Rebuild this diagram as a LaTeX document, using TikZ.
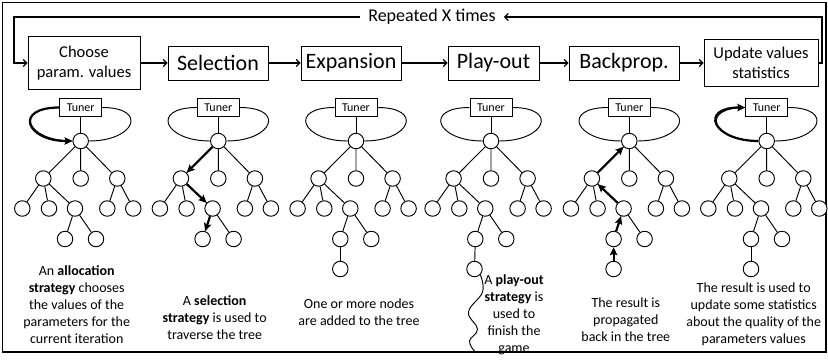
\documentclass[tikz,border=0pt]{standalone}
\usepackage{fontspec}
\setmainfont{Carlito}
\usetikzlibrary{arrows.meta}

\begin{document}
\begin{tikzpicture}[x=1pt,y=-1pt,
  frame/.style={draw=black,line width=1.8pt},
  stepbox/.style={draw=black,line width=0.9pt,fill=white,align=center,inner sep=0pt,minimum height=34pt,font=\fontsize{22}{26}\selectfont},
  flow/.style={draw=black,line width=1.2pt,-{Straight Barb[length=3.5pt,width=7pt]}},
  tuner/.style={draw=black,line width=0.9pt,fill=white,minimum width=42pt,minimum height=18.5pt,inner sep=0pt,font=\fontsize{12}{14}\selectfont},
  leaf/.style={draw=black,line width=0.95pt,fill=white,circle,minimum size=15.5pt,inner sep=0pt},
  edge/.style={draw=black,line width=0.95pt},
  walk/.style={draw=black,line width=2.2pt,-{Stealth[length=8pt,width=7.5pt,inset=1.5pt]}},
  note/.style={align=center,font=\fontsize{14}{17}\selectfont},
]
\useasboundingbox (0,0) rectangle (828,360);
\draw[frame] (2.5,2.5) rectangle (826,352);

% Steps of one iteration
\node[stepbox,minimum width=112pt,minimum height=53pt,font=\fontsize{16.5}{20.5}\selectfont] (choose) at (84,63) {Choose\\param. values};
\node[stepbox,minimum width=100pt] (select) at (218,63) {Selection};
\node[stepbox,minimum width=100pt] (expand) at (351,63) {Expansion};
\node[stepbox,minimum width=91pt] (playout) at (493.5,63) {Play-out};
\node[stepbox,minimum width=110pt] (backprop) at (624,63) {Backprop.};
\node[stepbox,minimum width=114pt,minimum height=47pt,font=\fontsize{16.5}{20.5}\selectfont] (update) at (761,63) {Update values\\statistics};
\draw[flow] (choose) -- (select);
\draw[flow] (select) -- (expand);
\draw[flow] (expand) -- (playout);
\draw[flow] (playout) -- (backprop);
\draw[flow] (backprop) -- (update);

% Loop back
\node[inner xsep=8pt,font=\fontsize{18}{22}\selectfont] (rep) at (432,17) {Repeated X times};
\coordinate (loopL) at (14,17);
\coordinate (loopR) at (822,17);
\draw[flow] (update.east) -| (loopR) -- (rep.east);
\draw[flow] (rep.west) -- (loopL) |- (choose.west);

% Same tree under every step
\foreach \i/\x in {1/80.7,2/218.3,3/356,4/491,5/629.3,6/766.7}{
  \node[tuner] (tun\i) at (\x,107.5) {Tuner};
  \node[leaf] (root\i) at (\x,141) {};
  \node[leaf] (left\i) at (\x-37.4,178.5) {};
  \node[leaf] (mid\i) at (\x,178.5) {};
  \node[leaf] (right\i) at (\x+36.6,178.5) {};
  \node[leaf] (ll\i) at (\x-58.4,208.5) {};
  \node[leaf] (lm\i) at (\x-31.7,208.5) {};
  \node[leaf] (lr\i) at (\x-5.7,208.5) {};
  \node[leaf] (rl\i) at (\x+26.6,208.5) {};
  \node[leaf] (rr\i) at (\x+52.6,208.5) {};
  \node[leaf] (lrl\i) at (\x-15.7,239) {};
  \node[leaf] (lrr\i) at (\x+15.3,239) {};
  \draw[edge] (tun\i.west) to[out=180,in=180,looseness=3.3] (root\i.west);
  \draw[edge] (tun\i.east) to[out=0,in=0,looseness=3.3] (root\i.east);
  \draw[edge] (tun\i) -- (root\i);
  \draw[edge] (root\i) -- (left\i) (root\i) -- (mid\i) (root\i) -- (right\i);
  \draw[edge] (left\i) -- (ll\i) (left\i) -- (lm\i) (left\i) -- (lr\i);
  \draw[edge] (right\i) -- (rl\i) (right\i) -- (rr\i);
  \draw[edge] (lr\i) -- (lrl\i) (lr\i) -- (lrr\i);
}

% Choose param. values
\draw[walk] (tun1.west) to[out=180,in=180,looseness=3.3] (root1.west);
\node[note] (txt1) at (76.7,305) {An \textbf{allocation}\\\textbf{strategy} chooses\\the values of the\\parameters for the\\current iteration};

% Selection
\draw[walk] (root2) -- (left2);
\draw[walk] (left2) -- (lr2);
\draw[walk] (lr2) -- (lrl2);
\node[note] (txt2) at (214.7,318) {A \textbf{selection}\\\textbf{strategy} is used to\\traverse the tree};

% Expansion
\node[leaf] (new3) at (340.3,269) {};
\draw[edge] (lrl3) -- (new3);
\node[note] (txt3) at (359,312) {One or more nodes\\are added to the tree};

% Play-out
\node[leaf] (new4) at (474.5,269) {};
\draw[edge] (lrl4) -- (new4);
\draw[edge] plot[smooth,tension=0.7] coordinates {(new4.south east) (482.5,292) (468.5,312) (477.5,329) (469.5,341) (474.5,351)};
\node[note] (txt4) at (514,315) {A \textbf{play-out}\\\textbf{strategy} is\\used to\\finish the\\game};

% Backprop.
\node[leaf] (new5) at (613.6,269) {};
\draw[walk] (new5) -- (lrl5);
\draw[walk] (lrl5) -- (lr5);
\draw[walk] (lr5) -- (left5);
\draw[walk] (left5) -- (root5);
\node[note] (txt5) at (625.8,320) {The result is\\propagated\\back in the tree};

% Update values statistics
\node[leaf] (new6) at (751,269) {};
\draw[edge] (lrl6) -- (new6);
\draw[walk] (root6.west) to[out=180,in=180,looseness=3.3] (tun6.west);
\node[note] (txt6) at (753.7,314) {The result is used to\\update some statistics\\about the quality of the\\parameters values};

\end{tikzpicture}
\end{document}
